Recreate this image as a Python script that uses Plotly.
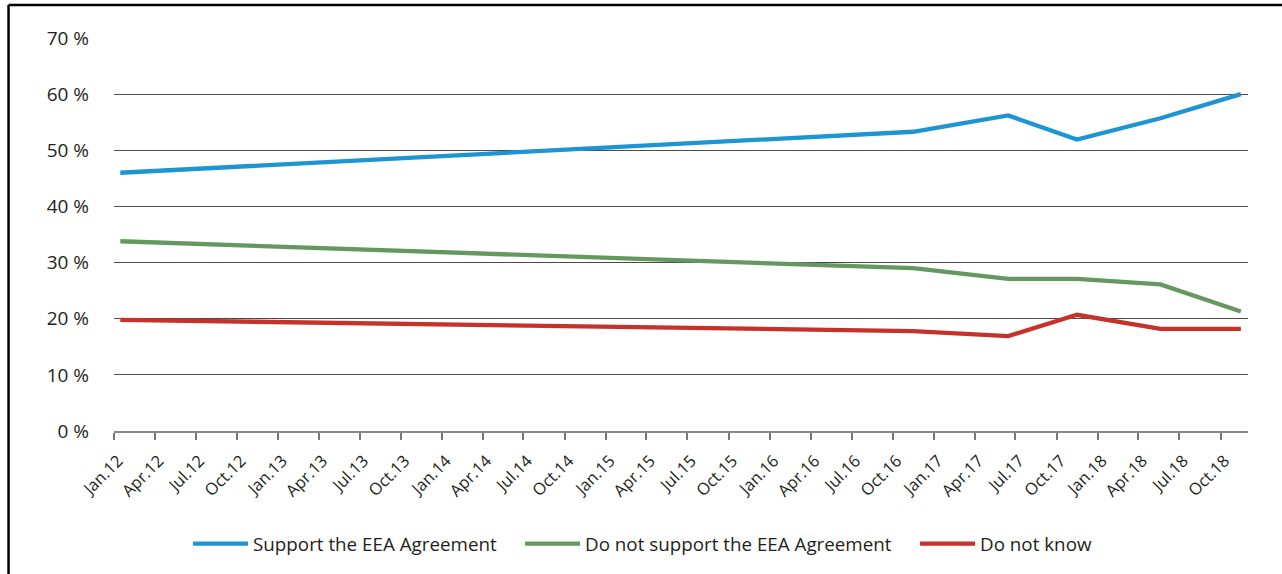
import plotly.graph_objects as go

# ---- data ----
dates = ["2012-01-15", "2016-11-15", "2017-06-15", "2017-11-15", "2018-05-20", "2018-11-15"]
support = [46.0, 53.3, 56.2, 51.9, 55.7, 60.0]
not_support = [33.8, 29.0, 27.1, 27.1, 26.1, 21.3]
dont_know = [19.8, 17.8, 16.9, 20.7, 18.2, 18.2]

series_names = ["Support the EEA Agreement", "Do not support the EEA Agreement", "Do not know"]
series_colors = ["#1e95d3", "#64985e", "#c6322a"]
legend_widths = [262, 325, 115]

tick_months = ["Jan", "Apr", "Jul", "Oct"]
tick_years = list(range(2012, 2019))
tick_dates = []
tick_labels = []
for yr in tick_years:
    for i, m in enumerate(tick_months):
        tick_dates.append(f"{yr}-{1 + 3 * i:02d}-01")
        tick_labels.append(f"{m}.{str(yr)[2:]}")

y_ticks = [0, 10, 20, 30, 40, 50, 60, 70]
y_labels = [f"{v} %" for v in y_ticks]

FONT = "Open Sans"

fig = go.Figure()
for name, vals, col, lw in zip(series_names, [support, not_support, dont_know],
                               series_colors, legend_widths):
    fig.add_trace(go.Scatter(
        x=dates, y=vals, name=name, mode="lines",
        line=dict(color=col, width=4.3),
        legendwidth=lw,
    ))

fig.update_layout(
    width=1282, height=574,
    margin=dict(l=114, r=34, t=38, b=142),
    paper_bgcolor="white", plot_bgcolor="white",
    font=dict(family=FONT, size=18, color="#231f20"),
    showlegend=True,
    legend=dict(
        orientation="h", x=0.0653, xanchor="left", y=-0.284, yanchor="middle",
        font=dict(family=FONT, size=18.8, color="#231f20"),
        itemwidth=55, traceorder="normal",
    ),
    xaxis=dict(
        type="date", range=["2012-01-01", "2018-12-01"],
        tickmode="array", tickvals=tick_dates, ticktext=tick_labels,
        tickangle=-45, showgrid=False, zeroline=False,
        showline=True, linecolor="#888888", linewidth=1.5,
        ticks="outside", ticklen=7, tickcolor="#777777", tickwidth=1.5,
        ticklabelshift=4, ticklabelstandoff=5,
        tickfont=dict(family=FONT, size=16.5, color="#231f20"),
    ),
    yaxis=dict(
        range=[0, 70], tickmode="array", tickvals=y_ticks, ticktext=y_labels,
        showgrid=True, gridcolor="#4a4a4a", gridwidth=1,
        zeroline=False, showline=False, ticks="",
        ticklabelstandoff=24,
        tickfont=dict(family=FONT, size=19, color="#231f20"),
    ),
    shapes=[
        dict(type="line", xref="paper", yref="paper",
             x0=-0.093, x1=1.03, y0=1.0838, y1=1.0838,
             line=dict(color="black", width=2.5)),
        dict(type="line", xref="paper", yref="paper",
             x0=-0.093, x1=-0.093, y0=1.0838, y1=-0.37,
             line=dict(color="black", width=2.5)),
    ],
)

fig.write_html("out.html")
